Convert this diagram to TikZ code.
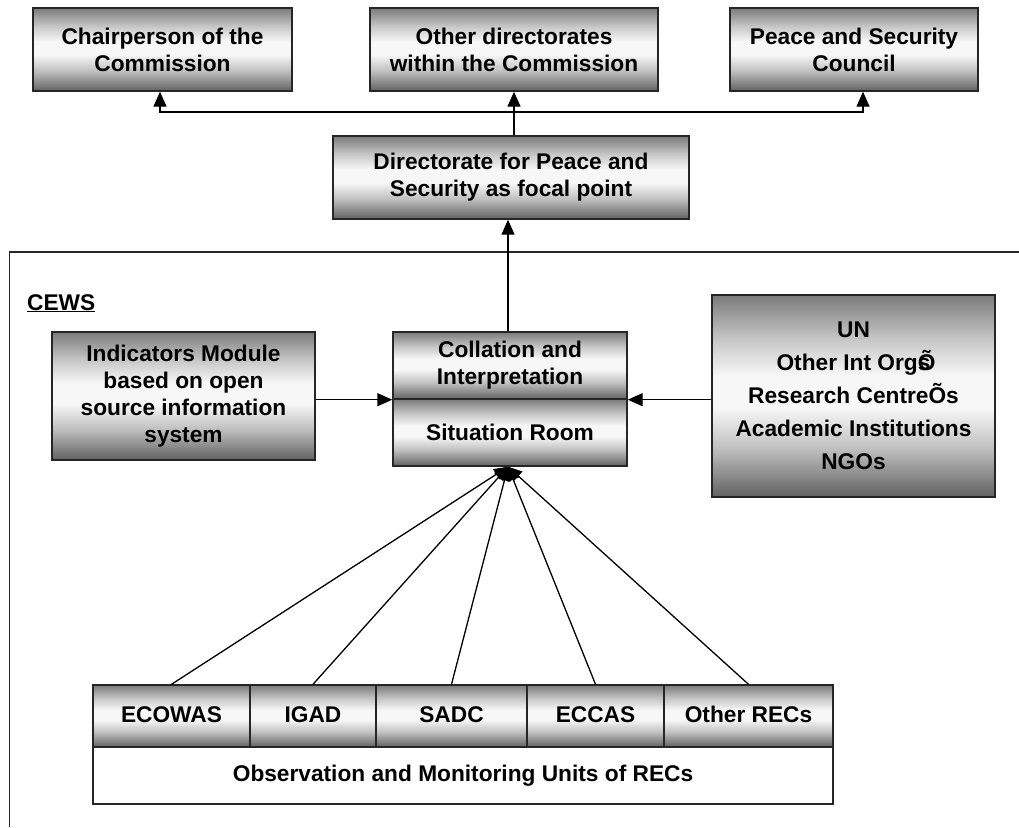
\documentclass[tikz,border=0pt]{standalone}
\usepackage{fontspec}
\setmainfont{Liberation Sans}
\usetikzlibrary{arrows.meta}
\pgfdeclareverticalshading{boxshade}{100bp}{color(0bp)=(black!62); color(25bp)=(black!62); color(37bp)=(black!25); color(47bp)=(black!3); color(55bp)=(black!3); color(64bp)=(black!22); color(75bp)=(black!52); color(100bp)=(black!52)}
\tikzset{
  box/.style={draw=black!85, line width=1.4pt, shading=boxshade, align=center, inner sep=0pt,
    font=\fontsize{22.7}{27}\selectfont\bfseries},
  recbox/.style={box, text height=16.5pt, text depth=4.5pt},
  plainbox/.style={draw=black!85, line width=1.4pt, fill=white, align=center, inner sep=0pt,
    font=\fontsize{22.7}{27}\selectfont\bfseries},
  arr/.style={line width=1.4pt, -{Triangle[length=15pt,width=13pt]}},
  recarr/.style={line width=1.3pt, -{Triangle[length=14pt,width=12pt]}},
  frameline/.style={line width=1.4pt, black!85},
}
\begin{document}
\begin{tikzpicture}[x=1pt,y=-1pt]
\useasboundingbox (0,0) rectangle (1019,827);
% top row
\node[box, minimum width=259, minimum height=83] (chair) at (162.5,49.5) {Chairperson of the\\Commission};
\node[box, minimum width=288, minimum height=83] (other) at (514,49.5) {Other directorates\\within the Commission};
\node[box, minimum width=248, minimum height=83] (psc) at (854,49.5) {Peace and Security\\Council};
% directorate
\node[box, minimum width=356, minimum height=83] (dir) at (511,177.5) {Directorate for Peace and\\Security as focal point};
\coordinate (j) at (514,112);
\draw[line width=1.4pt] (dir.north -| j) -- (j);
\draw[arr] (j) -- (other.south -| j);
\draw[arr] (j) -| ([xshift=-2.5pt]chair.south);
\draw[arr] (j) -| ([xshift=9pt]psc.south);
% CEWS frame
\draw[frameline] (9.5,827) -- (9.5,252) -- (1019,252);
\node[anchor=base west, inner sep=0pt, font=\fontsize{22.7}{27}\selectfont\bfseries] (cews) at (27,310) {\underline{CEWS}};
% middle
\node[box, minimum width=234, minimum height=67] (coll) at (510,365.5) {Collation and\\Interpretation};
\node[box, minimum width=234, minimum height=67] (sit) at (510,432.5) {Situation Room};
\node[box, minimum width=263, minimum height=128] (ind) at (183.5,396) {Indicators Module\\based on open\\source information\\system};
\node[box, minimum width=283, minimum height=202, font=\fontsize{22.7}{33}\selectfont\bfseries] (un) at (853.5,396) {UN\\Other Int Org\rlap{Õ}s\\Research CentreÕs\\Academic Institutions\\NGOs};
\draw[arr] ([xshift=-2pt]coll.north) -- ([xshift=-2pt]coll.north |- dir.south);
\draw[arr] (ind.east |- coll.south) -- (coll.south west);
\draw[arr] (un.west |- coll.south) -- (coll.south east);
% RECs
\node[recbox, minimum width=157, minimum height=62] (ecowas) at (171.5,716) {ECOWAS};
\node[recbox, minimum width=126, minimum height=62] (igad) at (313,716) {IGAD};
\node[recbox, minimum width=151, minimum height=62] (sadc) at (451.5,716) {SADC};
\node[recbox, minimum width=137, minimum height=62] (eccas) at (595.5,716) {ECCAS};
\node[recbox, minimum width=169, minimum height=62] (orecs) at (748.5,716) {Other RECs};
\node[plainbox, minimum width=740, minimum height=57] (obs) at (463,775.5) {Observation and Monitoring Units of RECs};
\coordinate (hub) at ([xshift=-2pt]sit.south);
\foreach \n in {ecowas,igad,sadc,eccas,orecs}{
  \draw[recarr] (\n.north) -- (hub);
}
\end{tikzpicture}
\end{document}
